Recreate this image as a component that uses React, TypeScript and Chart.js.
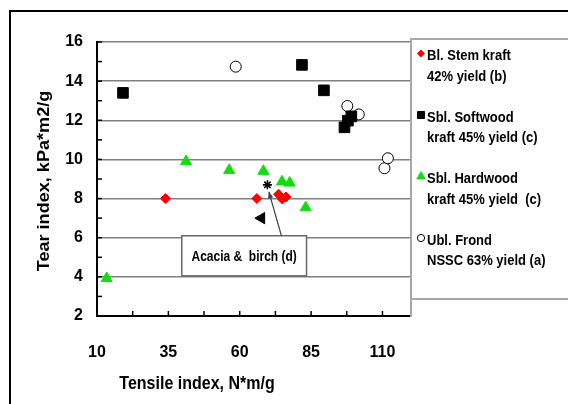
import React, { useEffect, useRef } from "react";
import { Chart, registerables } from "chart.js";

Chart.register(...registerables);

// ---- data ----
const xTickValues = [10, 35, 60, 85, 110];
const xMin = 10;
const xMax = 120;
const yMin = 2;
const yMax = 16;
const yStep = 2;

const stemX = [34, 66, 73.6, 74.9, 76.2];
const stemY = [8.0, 8.0, 8.22, 7.98, 8.08];

const softwoodX = [19.1, 81.8, 89.5, 96.7, 97.9, 99.1];
const softwoodY = [13.4, 14.83, 13.53, 11.64, 11.98, 12.2];

const hardwoodX = [13.4, 41.2, 56.3, 68.3, 74.8, 77.5, 83.1];
const hardwoodY = [3.92, 9.9, 9.45, 9.4, 8.86, 8.8, 7.54];

const frondX = [58.6, 97.7, 101.7, 110.7, 111.9];
const frondY = [14.74, 12.73, 12.3, 9.55, 10.06];

const acaciaX = [69.7];
const acaciaY = [8.7];

const otherX = [67.6];
const otherY = [7.0];

const legendLabels = [
  ["Bl. Stem kraft", "42% yield (b)"],
  ["Sbl. Softwood", "kraft 45% yield (c)"],
  ["Sbl. Hardwood", "kraft 45% yield  (c)"],
  ["Ubl. Frond", "NSSC 63% yield (a)"],
];

const xTitle = "Tensile index, N*m/g";
const yTitle = "Tear index, kPa*m2/g";
const noteText = "Acacia &  birch (d)";
const noteBox = { x0: 39.7, x1: 83.4, y0: 4.05, y1: 6.1 };
const noteArrowFrom = [74.6, 6.1];
const noteArrowTo = [70.2, 8.35];

const FONT = "'Liberation Sans', Arial, Helvetica, sans-serif";
const GREEN = "#14dc14";
const RED = "#ff0000";
const STRETCH = 1.15;

const toPts = (xs: number[], ys: number[]) => xs.map((x, i) => ({ x, y: ys[i] }));

function drawMarker(
  ctx: CanvasRenderingContext2D,
  style: string,
  x: number,
  y: number,
  r: number,
  fill: string,
  stroke: string
) {
  ctx.save();
  ctx.beginPath();
  if (style === "rectRot") {
    ctx.moveTo(x, y - r);
    ctx.lineTo(x + r, y);
    ctx.lineTo(x, y + r);
    ctx.lineTo(x - r, y);
    ctx.closePath();
  } else if (style === "rect") {
    ctx.rect(x - r, y - r, 2 * r, 2 * r);
  } else if (style === "triangle") {
    ctx.moveTo(x, y - r);
    ctx.lineTo(x + r * 0.866, y + r / 2);
    ctx.lineTo(x - r * 0.866, y + r / 2);
    ctx.closePath();
  } else {
    ctx.arc(x, y, r, 0, Math.PI * 2);
  }
  ctx.fillStyle = fill;
  ctx.fill();
  ctx.strokeStyle = stroke;
  ctx.lineWidth = 1;
  ctx.stroke();
  ctx.restore();
}

function stretchedText(ctx: CanvasRenderingContext2D, text: string, x: number, y: number) {
  ctx.save();
  ctx.translate(x, y);
  ctx.scale(1, STRETCH);
  ctx.fillText(text, 0, 0);
  ctx.restore();
}

const decorPlugin = {
  id: "decor",
  beforeDraw(chart: any) {
    const ctx = chart.ctx as CanvasRenderingContext2D;
    ctx.save();
    ctx.fillStyle = "#ffffff";
    ctx.fillRect(0, 0, chart.width, chart.height);
    ctx.strokeStyle = "#000";
    ctx.lineWidth = 2;
    ctx.beginPath();
    ctx.moveTo(10, chart.height + 5);
    ctx.lineTo(10, 11);
    ctx.lineTo(chart.width + 5, 11);
    ctx.stroke();
    ctx.restore();
  },
  afterDatasetsDraw(chart: any) {
    const ctx = chart.ctx as CanvasRenderingContext2D;
    const xs = chart.scales.x;
    const ys = chart.scales.y;
    const bx0 = xs.getPixelForValue(noteBox.x0);
    const bx1 = xs.getPixelForValue(noteBox.x1);
    const by0 = ys.getPixelForValue(noteBox.y1);
    const by1 = ys.getPixelForValue(noteBox.y0);
    ctx.save();
    ctx.fillStyle = "#fff";
    ctx.fillRect(bx0, by0, bx1 - bx0, by1 - by0);
    ctx.strokeStyle = "#666";
    ctx.lineWidth = 1.5;
    ctx.strokeRect(bx0, by0, bx1 - bx0, by1 - by0);
    ctx.fillStyle = "#000";
    ctx.font = `bold 12px ${FONT}`;
    ctx.textAlign = "center";
    ctx.textBaseline = "middle";
    stretchedText(ctx, noteText, (bx0 + bx1) / 2, (by0 + by1) / 2 + 1);
    const ax0 = xs.getPixelForValue(noteArrowFrom[0]);
    const ay0 = ys.getPixelForValue(noteArrowFrom[1]);
    const ax1 = xs.getPixelForValue(noteArrowTo[0]);
    const ay1 = ys.getPixelForValue(noteArrowTo[1]);
    ctx.strokeStyle = "#444";
    ctx.lineWidth = 1.2;
    ctx.beginPath();
    ctx.moveTo(ax0, ay0);
    ctx.lineTo(ax1, ay1);
    ctx.stroke();
    const ang = Math.atan2(ay1 - ay0, ax1 - ax0);
    const hl = 7;
    ctx.fillStyle = "#444";
    ctx.beginPath();
    ctx.moveTo(ax1, ay1);
    ctx.lineTo(ax1 - hl * Math.cos(ang - 0.4), ay1 - hl * Math.sin(ang - 0.4));
    ctx.lineTo(ax1 - hl * Math.cos(ang + 0.4), ay1 - hl * Math.sin(ang + 0.4));
    ctx.closePath();
    ctx.fill();
    ctx.restore();
  },
  afterDraw(chart: any) {
    const ctx = chart.ctx as CanvasRenderingContext2D;
    const xs = chart.scales.x;
    const ys = chart.scales.y;
    const { left, right, top, bottom } = chart.chartArea;
    ctx.save();
    ctx.strokeStyle = "#a8a8a8";
    ctx.lineWidth = 2;
    ctx.beginPath();
    ctx.moveTo(right, top);
    ctx.lineTo(right, bottom + 1);
    ctx.stroke();
    const lgTop = top - 3;
    const lgBottom = 299;
    ctx.beginPath();
    ctx.moveTo(chart.width + 5, lgTop);
    ctx.lineTo(right, lgTop);
    ctx.lineTo(right, lgBottom);
    ctx.lineTo(chart.width + 5, lgBottom);
    ctx.stroke();

    ctx.strokeStyle = "#000";
    ctx.lineWidth = 1.5;
    for (let v = yMin; v <= yMax; v += 1) {
      const py = ys.getPixelForValue(v);
      ctx.beginPath();
      ctx.moveTo(left, py);
      ctx.lineTo(left + 5, py);
      ctx.stroke();
    }
    for (let v = xMin; v < xMax; v += 12.5) {
      const px = xs.getPixelForValue(v);
      ctx.beginPath();
      ctx.moveTo(px, bottom);
      ctx.lineTo(px, bottom - 5);
      ctx.stroke();
    }

    const ds = chart.data.datasets;
    ctx.font = `bold 13px ${FONT}`;
    ctx.textAlign = "left";
    ctx.textBaseline = "middle";
    for (let i = 0; i < legendLabels.length; i++) {
      const d = ds[i];
      const cy = lgTop + 17 + i * 61.5;
      const style = d.pointStyle as string;
      const r = style === "triangle" ? 4.8 : style === "rect" ? 3.5 : 3.6;
      drawMarker(ctx, style, right + 10, cy - 2.5, r, d.backgroundColor, d.borderColor);
      ctx.fillStyle = "#000";
      stretchedText(ctx, legendLabels[i][0], right + 16, cy);
      stretchedText(ctx, legendLabels[i][1], right + 16, cy + 20.5);
    }

    ctx.fillStyle = "#000";
    ctx.font = `bold 16px ${FONT}`;
    ctx.textAlign = "center";
    ctx.textBaseline = "middle";
    stretchedText(ctx, xTitle, (left + right) / 2 - 57, 384);
    ctx.save();
    ctx.translate(45, (top + bottom) / 2 + 2);
    ctx.rotate(-Math.PI / 2);
    ctx.scale(1.13, 1);
    ctx.fillText(yTitle, 0, 0);
    ctx.restore();
    ctx.restore();
  },
};

export default function App() {
  const ref = useRef<HTMLCanvasElement | null>(null);
  useEffect(() => {
    if (!ref.current) return;
    const chart = new Chart(ref.current, {
      type: "scatter",
      data: {
        datasets: [
          {
            label: legendLabels[0].join(" "),
            data: toPts(stemX, stemY),
            pointStyle: "rectRot",
            pointRadius: 5,
            backgroundColor: RED,
            borderColor: RED,
            borderWidth: 1,
          },
          {
            label: legendLabels[1].join(" "),
            data: toPts(softwoodX, softwoodY),
            pointStyle: "rect",
            pointRadius: 7.5,
            backgroundColor: "#000",
            borderColor: "#000",
            borderWidth: 1,
          },
          {
            label: legendLabels[2].join(" "),
            data: toPts(hardwoodX, hardwoodY),
            pointStyle: "triangle",
            pointRadius: 6.4,
            backgroundColor: GREEN,
            borderColor: GREEN,
            borderWidth: 1,
          },
          {
            label: legendLabels[3].join(" "),
            data: toPts(frondX, frondY),
            pointStyle: "circle",
            pointRadius: 5.5,
            backgroundColor: "#fff",
            borderColor: "#000",
            borderWidth: 1,
          },
          {
            label: noteText,
            data: toPts(acaciaX, acaciaY),
            pointStyle: "star",
            pointRadius: 4.5,
            backgroundColor: "#000",
            borderColor: "#000",
            borderWidth: 1.6,
          },
          {
            label: "other",
            data: toPts(otherX, otherY),
            pointStyle: "triangle",
            rotation: -90,
            pointRadius: 6.5,
            backgroundColor: "#000",
            borderColor: "#000",
            borderWidth: 1,
          },
        ] as any,
      },
      options: {
        animation: false,
        responsive: false,
        maintainAspectRatio: false,
        events: [],
        layout: { padding: { left: 0, top: 42, right: 157, bottom: 0 } },
        plugins: {
          legend: { display: false },
          tooltip: { enabled: false },
          title: { display: false },
        },
        scales: {
          x: {
            type: "linear",
            min: xMin,
            max: xMax,
            afterFit: (s: any) => {
              s.height = 88;
            },
            afterBuildTicks: (s: any) => {
              s.ticks = xTickValues.map((v) => ({ value: v }));
            },
            grid: { display: true, color: "rgba(0,0,0,0)", drawTicks: false },
            border: { display: true, color: "#000", width: 2 },
            ticks: {
              padding: 27,
              color: "#000",
              font: { family: FONT, size: 16, weight: "bold" },
              maxRotation: 0,
              autoSkip: false,
            },
          },
          y: {
            type: "linear",
            min: yMin,
            max: yMax,
            afterFit: (s: any) => {
              s.width = 97;
            },
            grid: {
              display: true,
              drawTicks: false,
              lineWidth: 1.5,
              color: (c: any) => (c.tick && c.tick.value === yMin ? "rgba(0,0,0,0)" : "#808080"),
            },
            border: { display: true, color: "#000", width: 2 },
            ticks: {
              stepSize: yStep,
              padding: 14,
              color: "#000",
              font: { family: FONT, size: 16, weight: "bold" },
            },
          },
        },
      },
      plugins: [decorPlugin],
    } as any);
    return () => chart.destroy();
  }, []);

  return (
    <div style={{ position: "absolute", left: 0, top: 0, width: 568, height: 404 }}>
      <canvas ref={ref} width={568} height={404} style={{ display: "block" }} />
    </div>
  );
}
